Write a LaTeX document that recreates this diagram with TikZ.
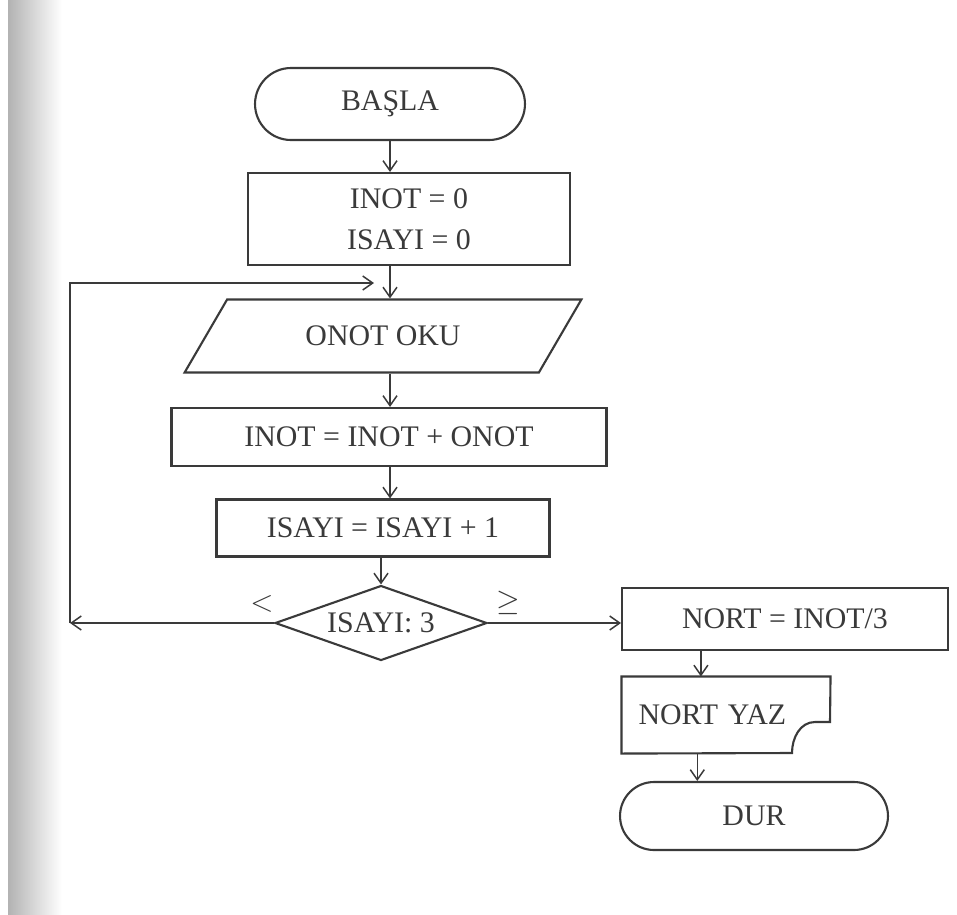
\documentclass[tikz,border=0pt]{standalone}
\usepackage{fontspec}
\setmainfont{Liberation Serif}
\usepackage{xcolor}
\usetikzlibrary{arrows.meta,positioning,calc,shapes.geometric,shapes.misc}
\definecolor{ink}{HTML}{3A3A3A}

\begin{document}
\begin{tikzpicture}[x=0.02cm,y=-0.02cm,>={Straight Barb[length=2mm,width=2.8mm]},
  flow/.style={->,line width=0.85pt,draw=ink},
  box/.style={draw=ink,line width=1.2pt,fill=white,text=ink,inner sep=0pt,
    font=\fontsize{17}{23}\selectfont},
  terminal/.style={box,rounded rectangle},
  proc/.style={box,rectangle,align=center},
  io/.style={box,trapezium,trapezium stretches=true,
    trapezium left angle=43.5,trapezium right angle=136.5},
  decision/.style={box,diamond,aspect=2.8},
  lab/.style={text=ink,font=\fontsize{17}{20}\selectfont}]
% page
\useasboundingbox (0,0) rectangle (957,914);
\fill[white] (0,0) rectangle (957,914);
\shade[left color=black!30,right color=white] (8,0) rectangle (62,914);

% main column
\node[terminal,minimum width=5.4cm,minimum height=1.44cm] (basla) at (390,104) {BAŞLA};
\node[proc,minimum width=6.44cm,minimum height=1.84cm] (init) at (409,219) {INOT = 0\\ISAYI = 0};
\node[io,minimum width=7.94cm,minimum height=1.46cm] (oku) at (383,336) {ONOT OKU};
\node[proc,minimum width=8.7cm,minimum height=1.16cm] (topla) at (389,437) {INOT = INOT + ONOT};
\node[proc,minimum width=6.66cm,minimum height=1.14cm] (sayac) at (383,528) {ISAYI = ISAYI + 1};
\node[decision,minimum width=4.24cm,minimum height=1.5cm] (karar) at (381,623) {ISAYI: 3};

% right column
\node[proc,minimum width=6.52cm,minimum height=1.24cm] (nort) at (785,619) {NORT = INOT/3};
\node[box,draw=none,fill=none,minimum width=4.14cm,minimum height=1.5cm,
  text width=3.5cm,align=left] (yaz) at (726,715) {NORT YAZ};
\node[terminal,minimum width=5.36cm,minimum height=1.36cm] (dur) at (754,816) {DUR};

% output sheet with torn corner
\coordinate (cut1) at (830,722);
\coordinate (cut2) at (792,753);
\draw[draw=ink,line width=1.2pt] (yaz.north west) -- (yaz.north east) -- (cut1)
  -- (815,722) .. controls (800,722) and (792,738) .. (cut2)
  -- (yaz.south west) -- cycle;

% connectors
\draw[flow] (basla.south) -- (init.north -| basla.south);
\draw[flow] (init.south -| basla.south) -- (oku.north -| basla.south);
\draw[flow] (oku.south -| basla.south) -- (topla.north -| basla.south);
\draw[flow] (topla.south -| basla.south) -- (sayac.north -| basla.south);
\draw[flow] (sayac.south -| karar.north) -- (karar.north);

\coordinate (dl) at (70,623);
\coordinate (ul) at (70,283);
\coordinate (giris) at (374,283);
\draw[flow] (karar.west) -- (dl);
\draw[flow] (dl) -- (ul) -- (giris);
\node[lab] (kucuk) at (262,604) {$<$};

\draw[flow] (karar.east) -- (nort.west |- karar.east);
\node[lab] (buyuk) at (508,603) {$\geq$};

\coordinate (yazin) at ($(yaz.north west)!0.38!(yaz.north east)$);
\draw[flow] (nort.south -| yazin) -- (yazin);
\path (dur.west) -- (dur.east) coordinate[pos=0.29] (durmid);
\draw[flow] (yaz.south -| durmid) -- (dur.north -| durmid);
\end{tikzpicture}
\end{document}
